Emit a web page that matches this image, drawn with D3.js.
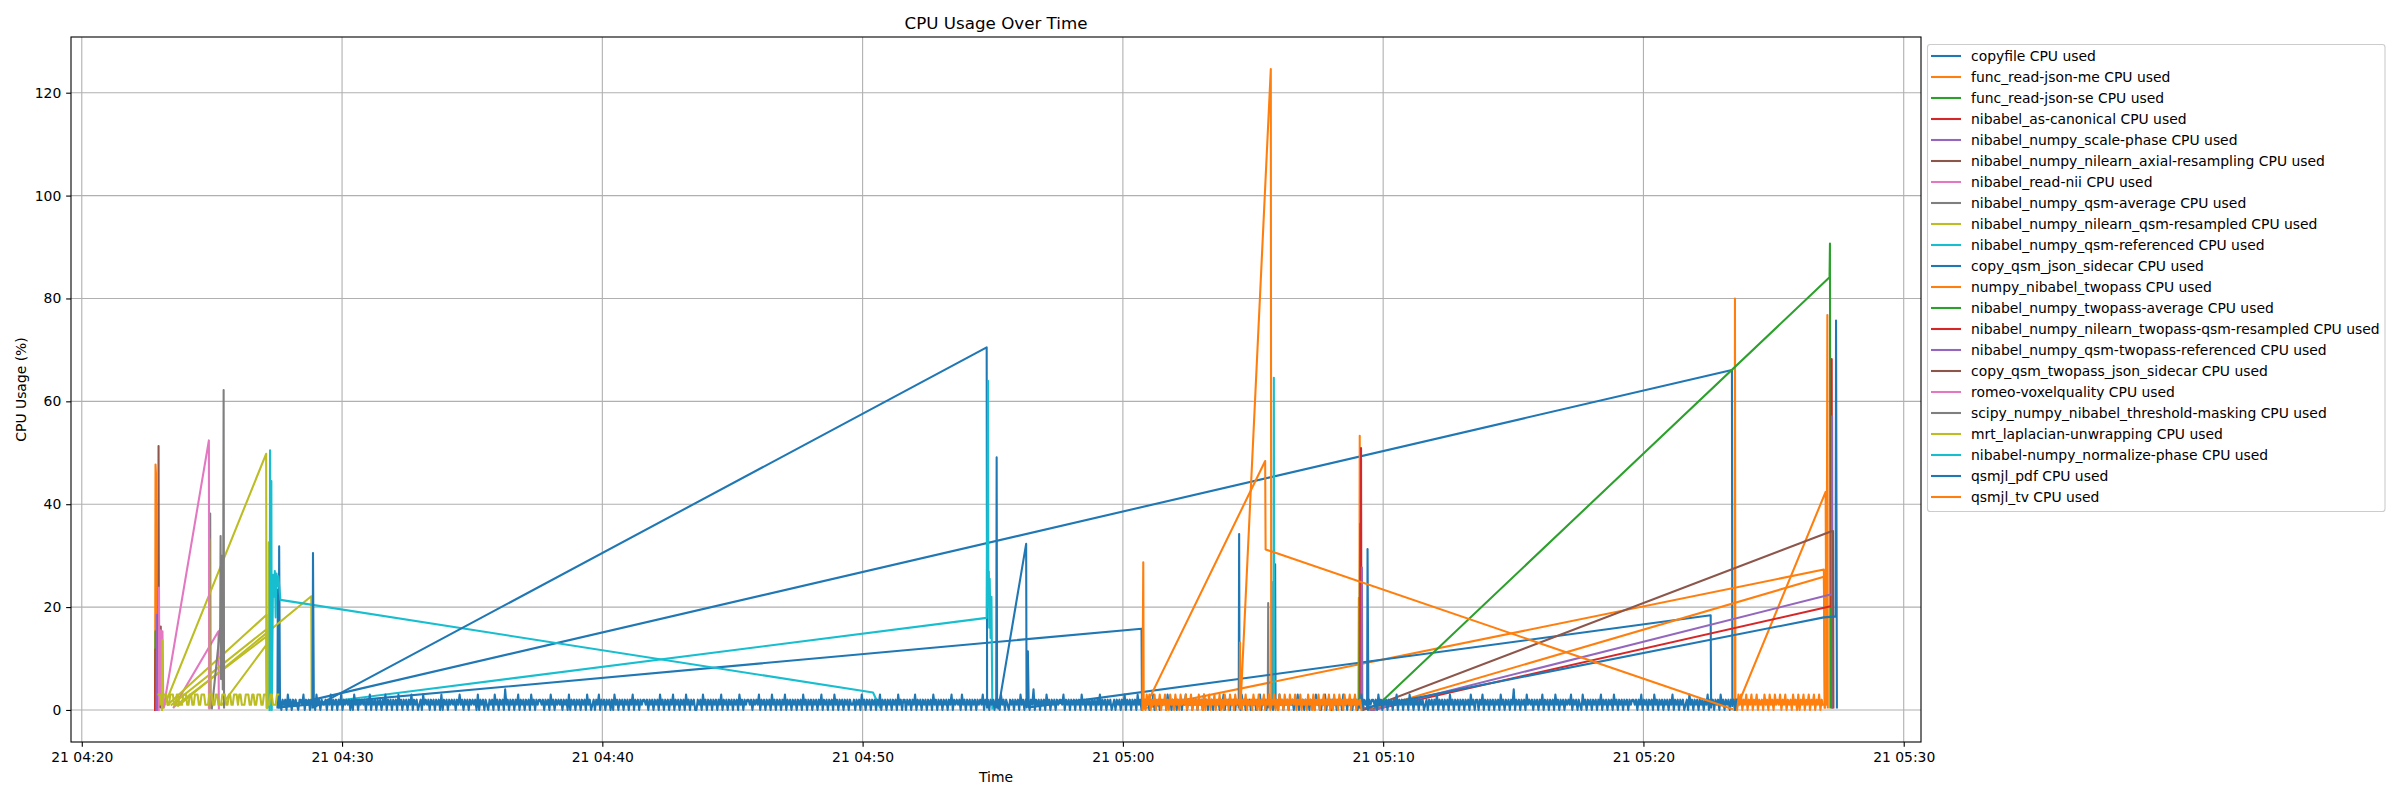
<!DOCTYPE html>
<html lang="en">
<head>
<meta charset="UTF-8">
<title>CPU Usage Over Time</title>
<script src="https://d3js.org/d3.v7.min.js"></script>
<style>
  body { margin: 0; background: #fff; }
  svg { display: block; background: #fff; }
  text { font-family: "DejaVu Sans", sans-serif; fill: #000; }
  .grid line { stroke: #b0b0b0; stroke-width: 1.1px; }
  path.series { fill: none; stroke-width: 2.08px; stroke-linejoin: round; stroke-linecap: square; }
</style>
</head>
<body>
<svg id="chart" width="2400" height="800"></svg>
<script>
// --- data (times are hh:mm:ss on the 21st) ---
const dayStamp = '2024-05-21';

const seriesNames = [
  'copyfile CPU used', 'func_read-json-me CPU used', 'func_read-json-se CPU used',
  'nibabel_as-canonical CPU used', 'nibabel_numpy_scale-phase CPU used',
  'nibabel_numpy_nilearn_axial-resampling CPU used', 'nibabel_read-nii CPU used',
  'nibabel_numpy_qsm-average CPU used', 'nibabel_numpy_nilearn_qsm-resampled CPU used',
  'nibabel_numpy_qsm-referenced CPU used', 'copy_qsm_json_sidecar CPU used',
  'numpy_nibabel_twopass CPU used', 'nibabel_numpy_twopass-average CPU used',
  'nibabel_numpy_nilearn_twopass-qsm-resampled CPU used',
  'nibabel_numpy_qsm-twopass-referenced CPU used', 'copy_qsm_twopass_json_sidecar CPU used',
  'romeo-voxelquality CPU used', 'scipy_numpy_nibabel_threshold-masking CPU used',
  'mrt_laplacian-unwrapping CPU used', 'nibabel-numpy_normalize-phase CPU used',
  'qsmjl_pdf CPU used', 'qsmjl_tv CPU used'
];

const palette = ['#1f77b4', '#ff7f0e', '#2ca02c', '#d62728', '#9467bd',
                 '#8c564b', '#e377c2', '#7f7f7f', '#bcbd22', '#17becf'];

const xTickTimes = ['04:20:00', '04:30:00', '04:40:00', '04:50:00', '05:00:00', '05:10:00', '05:20:00', '05:30:00'];
const yTickValues = [0, 20, 40, 60, 80, 100, 120];

// dense low-level sampling, one digit per sample (CPU %)
const laplacianNoise = {start: '04:22:57', step: 3,
  values: '3311333113331133111333113311333' +
          '1133311133311331113331133113331' +
          '3311133311331133311333113311133'};

const pdfNoise = {start: '04:27:37', step: 3,
  values: '2021203120212102213021202120312021120213' +
          '0212021302121202031202121202130212021202' +
          '1302120212031202120213021201203121202120' +
          '2120302120212120213120212021212030212021' +
          '0212031202120412021202130212021203120212' +
          '2120212031202121202120302120212021203120' +
          '1202130212021202031202120212021302120212' +
          '2120212021203120212021302120212031202120' +
          '0212031202120212021302120212021203120212' +
          '2120212130212021203120212021302120212021' +
          '2031202120212021302120212031202120212021' +
          '1202120312021202120213021202120212031202' +
          '2021202130212021202120312021202120213021' +
          '2120312021202120212130212021202120312021' +
          '0212021203120212021402120212031202120212' +
          '2130212021202120312021202120213021202120' +
          '1202120213021202120312021212021302120212' +
          '2031202120212021302120212021203120212021' +
          '1202130212021202120312021202120213021202' +
          '2120212031202120212021302120212021203120' +
          '0213021202120212031202120212021302120212' +
          '2120312021202120213021202120312021202120' +
          '1202120213021202120312021202120212031202' +
          '2021302120212021203120212021402120212031' +
          '2120212021302120212031202120212130212021' +
          '0312021202120213021202120312021202120212' +
          '2120213021202120312021202120213021202120' +
          '1203120212021202130212021203120212021202'};

const tvNoise = {start: '05:00:49', step: 3,
  values: '203130213021302130203120312031213021302120' +
          '312030213021302130203120312031213021302120' +
          '312030213021302130203120312031213021302120' +
          '312030213021302130203120312031213021302120'};

const twopassNoise = {start: '05:23:33', step: 3,
  values: '20313021302130213021203120312031213021302120312030213021302130213021'};

const copyfile = [
  [['04:27:31', 0.5], ['04:27:32', 23.4], ['04:27:33', 0.5], ['05:00:43', 15.8], ['05:00:44', 0.5]],
  [['04:27:34', 0.5], ['04:27:35', 31.8], ['04:27:37', 0.5], ['05:23:24', 66.1], ['05:23:25', 0.8]],
  [['05:05:46', 0.5], ['05:05:47', 24.9], ['05:05:49', 1.0], ['05:05:51', 28.3], ['05:05:52', 0.5]]
];
const funcReadJsonMe = [
  [['04:22:49', 0], ['04:22:50', 47.7], ['04:22:51', 46.0], ['04:22:52', 0.5]],
  [['05:00:47', 0.3], ['05:26:56', 27.3], ['05:26:58', 0.5]]
];
const funcReadJsonSe = [[['04:22:49', 0], ['04:22:50', 15.3], ['04:22:51', 0.5]]];
const asCanonical = [[['04:22:49', 0], ['04:22:50', 11.8], ['04:22:51', 0.5]]];
const scalePhase = [[['04:22:52', 0], ['04:22:53', 18.5], ['04:22:54', 0.5]]];
const axialResampling = [[['04:22:56', 0], ['04:22:57', 51.3], ['04:22:58', 1.0], ['04:23:01', 0.5], ['04:23:02', 16.2], ['04:23:03', 0.5]]];
const readNii = [
  [['04:22:57', 0], ['04:22:58', 23.8], ['04:22:59', 1.0], ['04:23:02', 15.5], ['04:23:04', 2.0], ['04:23:06', 15.3], ['04:23:08', 0.5]],
  [['04:23:32', 0.5], ['04:25:15', 15.3], ['04:25:16', 0.3]]
];
const qsmAverage = [
  [['04:24:55', 0.5], ['04:24:56', 38.2], ['04:24:57', 0.5]],
  [['05:05:34', 0.5], ['05:05:35', 20.8], ['05:05:36', 0.5]]
];
const qsmResampled = [
  [['04:23:05', 0], ['04:23:06', 13.6], ['04:23:07', 0.5]],
  [['04:23:09', 0.5], ['04:27:05', 49.8], ['04:27:06', 0.5]],
  [['04:23:18', 1.0], ['04:27:06', 18.5], ['04:27:07', 0.5]],
  [['04:23:27', 1.0], ['04:27:06', 15.7], ['04:27:07', 0.5]],
  [['04:23:36', 0.8], ['04:27:06', 14.3], ['04:27:07', 0.5]],
  [['04:25:23', 1.0], ['04:27:06', 12.7], ['04:27:07', 0.5]],
  [['04:24:53', 0.5], ['04:24:54', 33.2], ['04:24:55', 0.5]],
  [['04:27:10', 0.5], ['04:27:11', 32.6], ['04:27:12', 0.5]],
  [['04:23:42', 0.8], ['04:28:49', 22.1], ['04:28:50', 0.5]]
];
const qsmReferenced = [
  [['04:27:13', 0], ['04:27:14', 50.5], ['04:27:15', 1.0], ['04:27:17', 44.5], ['04:27:18', 0], ['04:27:21', 26.3],
   ['04:27:23', 22.0], ['04:27:25', 27.0], ['04:27:27', 18.0], ['04:27:29', 26.5], ['04:27:31', 24.0], ['04:27:33', 26.0],
   ['04:27:38', 21.4], ['04:50:24', 3.4], ['04:50:40', 0.5]],
  [['05:05:47', 0.5], ['05:05:48', 64.6], ['05:05:49', 0.5]]
];
const copyJsonSidecar = [
  [['04:28:52', 0.5], ['04:28:53', 30.5], ['04:28:55', 0.5], ['04:54:46', 70.5], ['04:54:47', 0.5]],
  [['04:55:08', 0.5], ['04:55:09', 49.1], ['04:55:10', 0.5]],
  [['04:55:13', 0.3], ['04:56:17', 32.3], ['04:56:18', 0.5], ['04:56:21', 11.4], ['04:56:23', 0.5], ['05:22:35', 18.4], ['05:22:36', 0.5]],
  [['05:04:27', 0.5], ['05:04:28', 34.2], ['05:04:29', 0.5]]
];
const numpyTwopass = [
  [['05:09:03', 0.5], ['05:09:04', 21.8], ['05:09:05', 1.0], ['05:09:06', 53.3], ['05:09:07', 0.5], ['05:09:36', 0.2], ['05:26:56', 25.9], ['05:26:58', 0.5]],
  [['05:23:30', 0], ['05:23:31', 80.0], ['05:23:32', 0.5]],
  twopassNoise,
  [['05:23:33', 0], ['05:27:00', 42.4], ['05:27:02', 1.0], ['05:27:04', 76.8], ['05:27:05', 0.5]]
];
const twopassAverage = [[['05:09:05', 0.5], ['05:09:07', 36.2], ['05:09:08', 0.5], ['05:09:36', 0], ['05:27:09', 84.1], ['05:27:10', 90.7], ['05:27:11', 0.5]]];
const twopassQsmResampled = [[['05:09:08', 0.5], ['05:09:09', 50.9], ['05:09:10', 0.5], ['05:09:36', 0], ['05:27:09', 20.1], ['05:27:13', 20.1], ['05:27:14', 68.2], ['05:27:15', 0.5]]];
const qsmTwopassReferenced = [[['05:09:10', 0.5], ['05:09:11', 27.7], ['05:09:12', 0.5], ['05:09:36', 0], ['05:27:09', 22.4], ['05:27:14', 22.4], ['05:27:15', 57.1], ['05:27:16', 0.5]]];
const copyTwopassSidecar = [[['05:09:14', 0], ['05:27:09', 34.6], ['05:27:17', 34.8], ['05:27:18', 0.5]]];
const romeoVoxelquality = [[['04:23:09', 0.6], ['04:24:53', 52.4], ['04:24:54', 0.3]]];
const thresholdMasking = [[['04:25:00', 0.3], ['04:25:19', 16.0], ['04:25:20', 33.8], ['04:25:21', 6.0], ['04:25:22', 30.0],
  ['04:25:23', 10.0], ['04:25:24', 27.0], ['04:25:25', 4.0], ['04:25:26', 25.0], ['04:25:27', 62.2], ['04:25:28', 0.5]]];
const laplacianUnwrapping = [laplacianNoise];
const normalizePhase = [[['04:30:06', 2.0], ['04:54:46', 17.9], ['04:54:49', 64.0], ['04:54:50', 20.0], ['04:54:51', 26.9],
  ['04:54:52', 16.0], ['04:54:53', 25.5], ['04:54:55', 14.0], ['04:54:57', 22.0], ['04:54:59', 0.3]]];
const qsmjlPdf = [
  pdfNoise,
  [['05:09:23', 0.5], ['05:09:24', 31.3], ['05:09:26', 0.5], ['05:26:56', 18.0], ['05:27:23', 18.2], ['05:27:24', 75.7], ['05:27:26', 0.5]]
];
const qsmjlTv = [
  [['05:00:45', 0], ['05:00:47', 28.7], ['05:00:48', 0.5]],
  tvNoise,
  [['05:00:50', 0.3], ['05:05:28', 48.4], ['05:05:29', 31.2], ['05:23:24', 0.2]],
  [['05:04:29', 0.3], ['05:04:30', 13.1], ['05:04:31', 0.5], ['05:05:41', 124.6], ['05:05:42', 0.5]]
];

const seriesSegments = [
  copyfile, funcReadJsonMe, funcReadJsonSe, asCanonical, scalePhase, axialResampling, readNii,
  qsmAverage, qsmResampled, qsmReferenced, copyJsonSidecar, numpyTwopass, twopassAverage,
  twopassQsmResampled, qsmTwopassReferenced, copyTwopassSidecar, romeoVoxelquality,
  thresholdMasking, laplacianUnwrapping, normalizePhase, qsmjlPdf, qsmjlTv
];

// --- build ---
const parseTime = d3.timeParse('%Y-%m-%d %H:%M:%S');
const toDate = s => parseTime(dayStamp + ' ' + s);

function expandNoise(n) {
  const t0 = toDate(n.start);
  return Array.from(n.values, (c, i) => [new Date(+t0 + i * n.step * 1000), +c]);
}

const series = seriesNames.map((name, i) => ({
  name,
  color: palette[i % 10],
  segs: seriesSegments[i].map(seg =>
    typeof seg.values === 'string' ? expandNoise(seg) : seg.map(([t, v]) => [toDate(t), v]))
}));

const allPoints = series.flatMap(s => s.segs.flat());

const plot = {left: 71, right: 1921, top: 37, bottom: 742};

const tExt = d3.extent(allPoints, d => d[0]);
const tPad = (tExt[1] - tExt[0]) * 0.05;
const x = d3.scaleTime()
  .domain([new Date(+tExt[0] - tPad), new Date(+tExt[1] + tPad)])
  .range([plot.left, plot.right]);

const vExt = d3.extent(allPoints, d => d[1]);
const vPad = (vExt[1] - vExt[0]) * 0.05;
const y = d3.scaleLinear()
  .domain([vExt[0] - vPad, vExt[1] + vPad])
  .range([plot.bottom, plot.top]);

const svg = d3.select('#chart');

svg.append('defs').append('clipPath').attr('id', 'plot-clip')
  .append('rect')
  .attr('x', plot.left).attr('y', plot.top)
  .attr('width', plot.right - plot.left).attr('height', plot.bottom - plot.top);

const xTicks = xTickTimes.map(toDate);

// grid
const grid = svg.append('g').attr('class', 'grid');
grid.selectAll('line.v').data(xTicks).join('line')
  .attr('class', 'v')
  .attr('x1', d => x(d)).attr('x2', d => x(d))
  .attr('y1', plot.top).attr('y2', plot.bottom);
grid.selectAll('line.h').data(yTickValues).join('line')
  .attr('class', 'h')
  .attr('x1', plot.left).attr('x2', plot.right)
  .attr('y1', d => y(d)).attr('y2', d => y(d));

// lines
const line = d3.line().x(d => x(d[0])).y(d => y(d[1]));
const gLines = svg.append('g').attr('clip-path', 'url(#plot-clip)');
series.forEach(s => {
  gLines.append('g').selectAll('path').data(s.segs).join('path')
    .attr('class', 'series')
    .attr('stroke', s.color)
    .attr('d', line);
});

// axes
const tickLen = 4.86, tickPad = 4.86, fontSize = 13.9;

const xAxis = svg.append('g')
  .attr('transform', `translate(0,${plot.bottom})`)
  .call(d3.axisBottom(x).tickValues(xTicks).tickFormat(d3.timeFormat('%d %H:%M'))
    .tickSize(tickLen).tickPadding(tickPad));
const yAxis = svg.append('g')
  .attr('transform', `translate(${plot.left},0)`)
  .call(d3.axisLeft(y).tickValues(yTickValues).tickFormat(d3.format('d'))
    .tickSize(tickLen).tickPadding(tickPad));

[xAxis, yAxis].forEach(a => {
  a.select('.domain').remove();
  a.attr('font-family', null).attr('font-size', null);
  a.selectAll('.tick line').attr('stroke', '#000').attr('stroke-width', 1.1);
  a.selectAll('.tick text').style('font-size', fontSize + 'px').attr('fill', '#000');
});

// spines
svg.append('rect')
  .attr('x', plot.left).attr('y', plot.top)
  .attr('width', plot.right - plot.left).attr('height', plot.bottom - plot.top)
  .attr('fill', 'none').attr('stroke', '#000').attr('stroke-width', 1.1);

// titles
svg.append('text')
  .attr('x', (plot.left + plot.right) / 2).attr('y', 29)
  .attr('text-anchor', 'middle').style('font-size', '16.7px')
  .text('CPU Usage Over Time');
svg.append('text')
  .attr('x', (plot.left + plot.right) / 2).attr('y', 782)
  .attr('text-anchor', 'middle').style('font-size', fontSize + 'px')
  .text('Time');
svg.append('text')
  .attr('transform', `translate(26,${(plot.top + plot.bottom) / 2}) rotate(-90)`)
  .attr('text-anchor', 'middle').style('font-size', fontSize + 'px')
  .text('CPU Usage (%)');

// legend
const legend = svg.append('g');
legend.append('rect')
  .attr('x', 1927.5).attr('y', 44.5).attr('width', 457.5).attr('height', 467)
  .attr('rx', 2.8).attr('ry', 2.8)
  .attr('fill', '#fff').attr('fill-opacity', 0.8)
  .attr('stroke', '#cccccc').attr('stroke-width', 1.1);

const rowY = i => 56 + 21 * i;
const rows = legend.selectAll('g.row').data(series).join('g').attr('class', 'row');
rows.append('line')
  .attr('x1', 1931).attr('x2', 1961)
  .attr('y1', (d, i) => rowY(i)).attr('y2', (d, i) => rowY(i))
  .attr('stroke', d => d.color).attr('stroke-width', 2.08);
rows.append('text')
  .attr('x', 1971).attr('y', (d, i) => rowY(i) + 4.8)
  .style('font-size', fontSize + 'px')
  .text(d => d.name);
</script>
</body>
</html>
